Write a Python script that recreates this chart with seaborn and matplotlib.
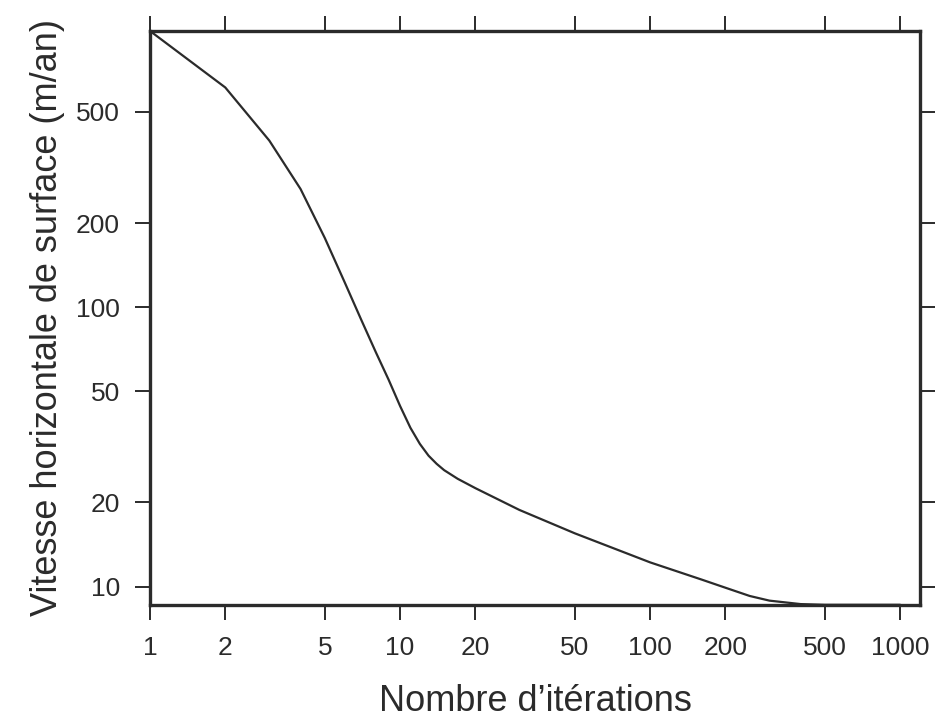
import matplotlib
matplotlib.use('Agg')
import matplotlib.pyplot as plt
import matplotlib.ticker as mticker
import seaborn as sns
import pandas as pd

# values (log-log)
iterations = [1, 2, 3, 4, 5, 6, 7, 8, 9, 10, 11, 12, 13, 14, 15, 17, 20, 30, 50,
              100, 160, 200, 250, 300, 400, 500, 1000]
vitesse = [975, 612, 395, 265, 177, 123, 90, 69, 55, 44.3, 37, 32.4, 29.4, 27.5, 26.1,
           24.3, 22.5, 18.8, 15.5, 12.2, 10.6, 9.9, 9.25, 8.9, 8.65, 8.6, 8.6]

x_ticks = [1, 2, 5, 10, 20, 50, 100, 200, 500, 1000]
y_ticks = [10, 20, 50, 100, 200, 500]

df = pd.DataFrame({'iterations': iterations, 'vitesse': vitesse})

sns.set_style('ticks')
plt.rcParams['font.family'] = ['Liberation Sans', 'DejaVu Sans']
ink = '#2b2b2b'

fig = plt.figure(figsize=(9.35, 7.2), dpi=100)
ax = fig.add_axes([0.1604, 0.160, 0.8236, 0.797])

sns.lineplot(data=df, x='iterations', y='vitesse', ax=ax, color=ink, linewidth=1.6)

ax.set_xscale('log')
ax.set_yscale('log')
ax.set_xlim(1, 1200)
ax.set_ylim(8.6, 975)

ax.xaxis.set_major_locator(mticker.FixedLocator(x_ticks))
ax.xaxis.set_major_formatter(mticker.FixedFormatter([str(v) for v in x_ticks]))
ax.xaxis.set_minor_locator(mticker.NullLocator())
ax.yaxis.set_major_locator(mticker.FixedLocator(y_ticks))
ax.yaxis.set_major_formatter(mticker.FixedFormatter([str(v) for v in y_ticks]))
ax.yaxis.set_minor_locator(mticker.NullLocator())

ax.tick_params(axis='both', which='major', direction='out', length=10.5, width=1.4,
               color=ink, labelcolor=ink, labelsize=19, top=True, right=True)
ax.tick_params(axis='x', pad=12)
ax.tick_params(axis='y', pad=11)

for side in ['left', 'right', 'top', 'bottom']:
    ax.spines[side].set_visible(True)
    ax.spines[side].set_linewidth(2.4)
    ax.spines[side].set_color(ink)

ax.set_xlabel('Nombre d\u2019itérations', fontsize=26, color=ink, labelpad=17)
ax.set_ylabel('Vitesse horizontale de surface (m/an)', fontsize=26, color=ink, labelpad=8)

fig.savefig('out.png', dpi=100)
